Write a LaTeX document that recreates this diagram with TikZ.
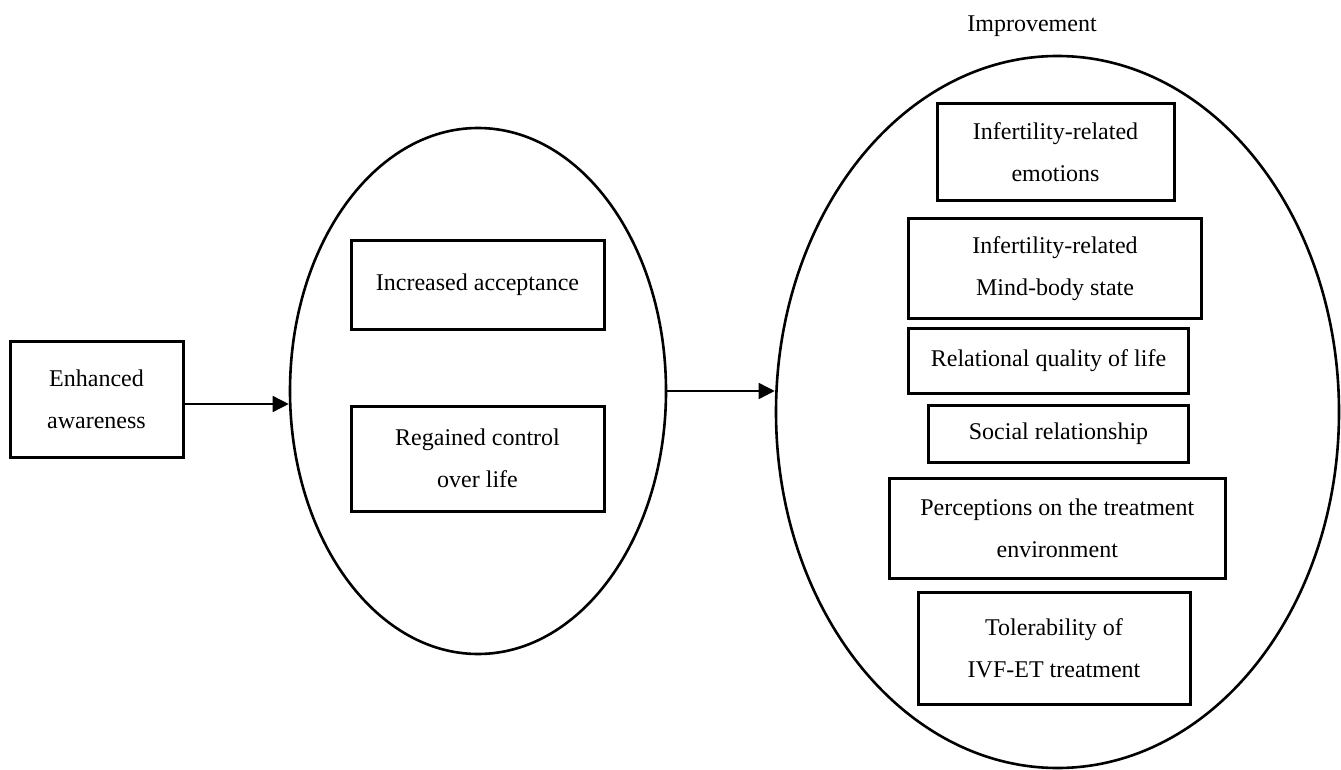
\documentclass[tikz,border=0pt]{standalone}
\usepackage{fontspec}
\setmainfont{Liberation Serif}
\usetikzlibrary{shapes.geometric,arrows.meta}
\begin{document}
\begin{tikzpicture}[x=1pt,y=-1pt,
  txt/.style={font=\fontsize{24}{42}\selectfont, align=center},
  rbox/.style={draw, line width=3pt, inner sep=0pt, txt},
  oval/.style={draw, ellipse, line width=2.6pt, inner sep=0pt},
  conn/.style={line width=1.6pt, -{Triangle[length=16pt,width=16pt]}}]
\useasboundingbox (0,0) rectangle (1341,770);
% left box
\node[rbox, minimum width=173pt, minimum height=116pt] (eb) at (96.5,399) {Enhanced\\awareness};
% middle ellipse
\node[oval, minimum width=376pt, minimum height=526pt] (e1) at (478,391) {};
\node[rbox, minimum width=253pt, minimum height=89pt] (b1) at (477.5,284.5) {Increased acceptance};
\node[rbox, minimum width=253pt, minimum height=105pt] (b2) at (477.5,458.5) {Regained control\\over life};
% right ellipse
\node[oval, minimum width=563pt, minimum height=712pt] (e2) at (1057.5,412) {};
\node[txt, anchor=base] (imp) at (1032,31.5) {Improvement};
\node[rbox, minimum width=237pt, minimum height=97pt] (r1) at (1055.5,152.5) {Infertility-related\\emotions};
\node[rbox, minimum width=293.5pt, minimum height=100pt] (r2) at (1055,268.5) {Infertility-related\\Mind-body state};
\node[rbox, minimum width=280pt, minimum height=65pt] (r3) at (1048.5,360.5) {Relational quality of life};
\node[rbox, minimum width=260pt, minimum height=57pt] (r4) at (1058.5,434) {Social relationship};
\node[rbox, minimum width=335.4pt, minimum height=100pt] (r5) at (1057.3,528) {Perceptions on the treatment\\environment};
\node[rbox, minimum width=272pt, minimum height=112pt] (r6) at (1054,648.6) {Tolerability of\\IVF-ET treatment};
% connectors
\draw[conn] ([yshift=-5pt]eb.east) -- ([yshift=-5pt]eb.east -| e1.west);
\draw[conn] (e1.east) -- (e1.east -| e2.west);
\end{tikzpicture}
\end{document}
